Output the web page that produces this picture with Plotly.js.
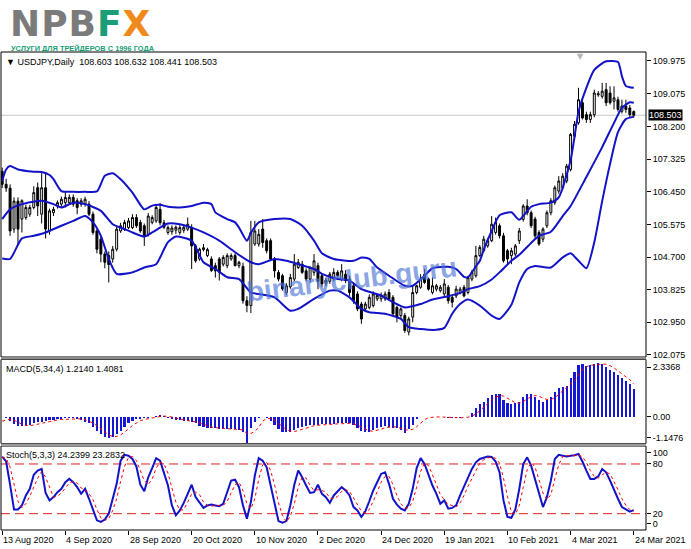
<!DOCTYPE html>
<html><head><meta charset="utf-8">
<script src="https://cdn.plot.ly/plotly-3.0.1.min.js"></script>
<style>html,body{margin:0;padding:0;background:#fff}#chart{width:691px;height:549px}</style>
</head><body><div id="chart"></div>
<script>
// ---------- data ----------
const symbolTitle = "\u25BC USDJPY,Daily\u00a0\u00a0108.603 108.632 108.441 108.503";
const macdTitle = "MACD(5,34,4) 1.2140 1.4081";
const stochTitle = "Stoch(5,3,3) 24.2399 23.2832";
const lastPrice = 108.503;

const openP = [
107.00,106.65,106.55,105.45,106.20,105.72,105.76,105.85,106.03,106.56,
105.85,106.56,105.40,105.89,106.07,106.12,106.16,106.16,106.30,106.21,
106.12,106.12,106.12,105.85,105.40,105.18,104.78,104.74,104.65,104.91,
105.40,105.45,105.49,105.49,105.76,105.63,105.54,105.31,105.63,105.67,
105.98,105.62,105.36,105.38,105.42,105.36,105.42,105.45,105.49,105.00,
104.65,104.90,104.74,104.65,104.47,104.65,104.51,104.47,104.65,104.74,
104.47,104.45,103.53,103.40,105.05,105.05,105.45,105.14,105.14,104.65,
104.29,104.20,103.75,103.90,104.11,104.42,104.51,104.33,104.11,104.29,
104.47,104.20,104.00,104.05,104.11,104.29,104.11,104.24,104.11,103.93,
103.71,103.44,103.31,103.35,103.40,103.58,103.58,103.58,103.75,103.62,
103.35,103.13,103.13,102.69,103.09,103.75,103.89,104.24,104.11,103.75,
103.84,103.80,103.71,103.89,103.62,103.66,103.75,103.89,103.75,104.11,
104.20,104.74,104.87,105.00,105.14,105.36,105.54,105.27,104.87,104.74,
104.78,105.14,105.71,106.07,105.89,105.72,105.36,105.18,105.54,105.89,
106.16,106.47,106.56,106.74,107.05,107.94,108.30,108.84,108.52,108.39,
108.52,109.05,109.01,109.19,109.10,108.88,108.92,108.61,108.75,108.70,
108.603];
const highP = [
107.10,106.80,106.65,106.30,106.30,106.25,106.10,106.10,106.60,106.70,
106.95,106.95,106.00,106.05,106.22,106.32,106.47,106.38,106.38,106.28,
106.28,106.32,106.20,105.92,105.45,105.25,104.85,104.85,105.00,105.55,
105.62,105.70,105.75,105.85,105.85,105.70,105.60,105.88,105.82,106.12,
106.15,105.70,105.55,105.55,105.55,105.56,105.58,105.76,105.58,105.05,
104.95,105.05,104.95,104.72,104.55,104.70,104.75,104.80,104.80,104.80,
104.60,104.55,103.65,105.67,105.67,105.45,105.72,105.20,105.20,104.70,
104.35,104.25,104.00,104.25,104.78,104.65,104.60,104.40,104.45,104.78,
104.55,104.25,104.15,104.30,104.40,104.35,104.51,104.35,104.20,104.00,
103.78,103.50,103.50,103.70,103.78,103.72,103.75,103.78,103.84,103.68,
103.40,103.35,103.20,103.10,103.93,103.96,104.24,104.38,104.15,104.16,
103.98,103.95,104.11,103.95,103.68,103.93,103.90,103.95,104.20,104.35,
105.00,105.02,105.27,105.20,105.80,105.76,105.60,105.35,104.92,104.95,
105.05,105.48,106.12,106.25,105.95,105.78,105.42,105.50,105.95,106.28,
106.62,106.87,106.95,107.20,108.03,108.35,109.24,108.97,108.60,108.60,
109.19,109.15,109.37,109.37,109.28,109.28,109.00,108.92,108.92,108.78,
108.632];
const lowP = [
106.55,106.45,105.27,105.35,105.05,105.36,105.70,105.78,105.98,105.80,
105.60,105.20,105.30,105.80,106.00,106.05,106.03,106.10,106.05,105.85,
106.05,106.05,105.80,105.30,104.80,104.56,104.40,104.02,104.55,104.85,
105.35,105.40,105.45,105.45,105.48,105.35,105.00,105.25,105.58,105.62,
105.55,105.45,105.30,105.30,105.32,105.30,105.35,105.40,104.38,104.55,
104.60,104.85,104.70,104.30,104.15,104.07,104.45,104.40,104.60,104.45,
104.40,103.45,103.22,103.20,105.00,104.98,104.95,104.80,104.60,104.15,
104.05,103.80,103.68,103.85,104.05,104.38,104.25,104.05,104.02,104.20,
103.84,103.90,103.92,103.98,104.05,104.15,104.05,104.00,103.66,103.45,
103.25,102.91,103.25,103.30,103.35,103.52,103.50,103.52,103.52,103.15,
102.95,103.05,102.67,102.60,102.95,103.70,103.85,103.98,103.80,103.70,
103.78,103.75,103.65,103.45,103.35,103.60,103.70,103.62,103.70,104.05,
104.15,104.70,104.82,104.95,105.10,105.30,105.20,104.55,104.51,104.51,
104.72,105.05,105.65,105.82,105.48,105.20,105.00,105.10,105.48,105.82,
106.10,106.40,106.50,106.68,107.00,107.85,108.25,108.39,108.30,108.30,
108.45,109.00,108.95,108.75,108.79,108.66,108.60,108.55,108.57,108.45,
108.441];
const closeP = [
106.65,106.55,105.40,106.20,105.45,106.21,106.03,106.03,106.43,106.07,
106.56,105.45,105.94,105.98,106.16,106.25,106.30,106.30,106.12,106.03,
106.21,106.25,105.85,105.36,104.91,104.78,104.56,104.50,104.91,105.45,
105.54,105.63,105.67,105.76,105.54,105.40,105.27,105.80,105.76,106.03,
105.62,105.50,105.49,105.48,105.50,105.49,105.50,105.58,105.00,104.60,
104.91,104.95,104.90,104.34,104.33,104.29,104.69,104.74,104.74,104.47,
104.56,103.53,103.40,105.36,105.40,105.31,105.09,104.87,104.65,104.33,
104.11,103.85,103.93,104.15,104.51,104.56,104.29,104.11,104.42,104.60,
104.05,103.98,104.08,104.24,104.29,104.20,104.33,104.07,103.75,103.53,
103.31,103.04,103.44,103.62,103.71,103.67,103.67,103.71,103.58,103.18,
103.09,103.31,102.73,103.04,103.75,103.93,104.11,104.02,103.84,103.93,
103.93,103.89,103.98,103.53,103.49,103.84,103.84,103.66,104.15,104.29,
104.74,104.96,105.18,105.14,105.58,105.63,105.27,104.60,104.65,104.87,
105.00,105.40,106.07,105.89,105.54,105.27,105.05,105.45,105.89,106.21,
106.56,106.74,106.87,107.14,107.99,108.26,108.92,108.43,108.39,108.52,
109.10,109.08,109.15,108.84,108.84,108.97,108.66,108.75,108.66,108.52,
108.503];

// Bollinger bands, read at the bars where they were legible
const bbUpIdx = [0,1,2,4,8,10,12,13,15,18,21,24,26,28,30,33,36,38,40,42,45,48,51,53,54,57,59,60,62,63,65,69,73,76,79,81,84,89,91,93,95,98,102,104,107,109,113,115,117,118,120,121,122,124,126,129,131,134,136,139,141,144,146,147,150,153,156,157,158,160];
const bbUpVal = [106.74,107.05,107.14,107.05,106.99,106.98,106.90,106.79,106.47,106.45,106.45,106.46,106.88,106.95,106.79,106.43,105.98,106.08,106.10,106.05,106.03,106.07,106.16,106.12,105.90,105.72,105.63,105.49,105.14,105.35,105.63,105.72,105.72,105.54,105.14,104.80,104.65,104.60,104.69,104.65,104.42,104.20,103.93,103.93,104.20,104.40,104.44,104.38,104.17,104.16,104.45,104.60,104.90,105.40,105.82,105.90,105.70,106.05,106.12,106.16,106.30,107.30,108.60,108.95,109.72,109.95,109.93,109.55,109.29,109.24];
const bbMidIdx = [0,2,5,10,13,15,18,21,25,28,31,33,36,38,40,42,45,48,51,55,59,63,65,69,72,75,79,81,85,88,91,96,99,102,106,109,113,116,118,121,124,126,129,131,134,136,139,142,144,148,152,155,157,159,160];
const bbMidVal = [105.72,105.98,106.12,106.21,106.12,106.03,106.16,106.12,105.94,105.58,105.45,105.36,105.25,105.36,105.49,105.60,105.58,105.49,105.36,105.14,104.83,104.56,104.51,104.65,104.60,104.51,104.38,104.25,104.11,104.07,103.84,103.67,103.49,103.35,103.44,103.56,103.65,103.74,103.84,103.92,104.10,104.29,104.60,104.76,105.08,105.27,105.38,105.80,106.07,106.85,107.65,108.30,108.70,108.85,108.84];
const bbLowIdx = [0,2,5,8,11,15,18,21,23,25,27,29,33,36,39,41,42,44,48,51,54,57,60,63,65,69,73,75,79,83,85,88,91,93,97,101,103,106,110,112,114,116,118,121,124,126,129,131,133,135,139,142,144,146,148,150,152,154,156,158,160];
const bbLowVal = [104.66,104.65,105.20,105.27,105.36,105.54,105.67,105.80,105.63,105.27,104.65,104.25,104.29,104.42,104.51,104.91,105.10,105.25,105.14,104.56,104.38,104.16,104.11,103.75,103.71,103.62,103.26,103.31,103.58,103.80,103.80,103.62,103.31,103.22,103.18,103.04,102.82,102.77,102.75,102.80,103.18,103.44,103.56,103.40,103.13,103.04,103.42,104.02,104.38,104.46,104.42,104.69,104.80,104.60,104.40,105.10,106.20,107.20,108.05,108.40,108.46];

const macdHist = [
-0.02,-0.08,-0.20,-0.34,-0.40,-0.41,-0.40,-0.37,-0.30,-0.25,
-0.22,-0.18,-0.15,-0.15,-0.12,-0.11,-0.08,-0.08,-0.08,-0.11,
-0.15,-0.22,-0.30,-0.44,-0.63,-0.78,-0.88,-0.92,-0.88,-0.78,
-0.63,-0.44,-0.30,-0.20,-0.12,-0.11,-0.08,-0.05,-0.02,0.01,
0.07,0.02,-0.05,-0.11,-0.15,-0.17,-0.18,-0.20,-0.22,-0.30,
-0.40,-0.44,-0.49,-0.49,-0.51,-0.54,-0.54,-0.54,-0.54,-0.54,
-0.59,-0.66,-1.1476,-0.51,-0.22,-0.05,-0.01,-0.08,-0.20,-0.37,
-0.54,-0.66,-0.69,-0.66,-0.59,-0.51,-0.44,-0.40,-0.37,-0.37,
-0.37,-0.34,-0.33,-0.33,-0.31,-0.30,-0.30,-0.30,-0.30,-0.37,
-0.51,-0.63,-0.69,-0.66,-0.59,-0.51,-0.44,-0.40,-0.44,-0.49,
-0.51,-0.59,-0.73,-0.54,-0.37,-0.11,-0.04,-0.02,-0.02,-0.01,
-0.02,-0.02,-0.02,-0.05,-0.08,-0.05,-0.05,-0.04,-0.02,0.14,
0.36,0.53,0.64,0.79,0.93,0.96,0.96,0.72,0.57,0.54,
0.57,0.64,0.86,0.96,0.96,0.86,0.72,0.64,0.72,0.86,
1.05,1.22,1.30,1.34,1.69,1.95,2.22,2.27,2.20,2.22,
2.27,2.3368,2.30,2.17,2.02,1.95,1.80,1.66,1.54,1.40,
1.214];
const macdSignal = [
-0.20,-0.15,-0.12,-0.16,-0.25,-0.34,-0.39,-0.40,-0.37,-0.33,
-0.29,-0.24,-0.20,-0.18,-0.15,-0.13,-0.12,-0.10,-0.09,-0.09,
-0.10,-0.14,-0.20,-0.28,-0.40,-0.54,-0.68,-0.80,-0.87,-0.87,
-0.80,-0.68,-0.54,-0.39,-0.27,-0.18,-0.13,-0.09,-0.07,-0.04,
0.00,0.02,0.01,-0.02,-0.07,-0.12,-0.15,-0.18,-0.19,-0.23,
-0.28,-0.34,-0.41,-0.46,-0.48,-0.51,-0.52,-0.53,-0.54,-0.54,
-0.55,-0.58,-0.74,-0.74,-0.64,-0.48,-0.20,-0.09,-0.09,-0.17,
-0.30,-0.44,-0.57,-0.64,-0.65,-0.61,-0.55,-0.49,-0.43,-0.40,
-0.38,-0.36,-0.35,-0.34,-0.33,-0.32,-0.31,-0.30,-0.30,-0.32,
-0.37,-0.45,-0.55,-0.62,-0.64,-0.61,-0.55,-0.49,-0.45,-0.44,
-0.46,-0.51,-0.58,-0.59,-0.56,-0.44,-0.27,-0.14,-0.05,-0.02,
-0.02,-0.02,-0.02,-0.03,-0.04,-0.05,-0.06,-0.06,-0.03,0.01,
0.11,0.25,0.42,0.58,0.72,0.83,0.91,0.89,0.80,0.70,
0.60,0.58,0.65,0.76,0.86,0.91,0.88,0.80,0.74,0.74,
0.82,0.96,1.11,1.23,1.39,1.57,1.80,2.03,2.16,2.23,
2.24,2.27,2.28,2.27,2.21,2.11,1.98,1.86,1.74,1.60,
1.4081];

const stochK = [
89,83,55,25,25,30,42,50,67,72,
74,45,36,40,46,50,58,62,58,52,
44,50,38,24,12,10,13,20,38,56,
84,91,90,86,77,55,47,64,75,87,
84,70,54,30,18,24,33,44,55,40,
34,27,30,31,30,29,32,45,60,61,
52,30,14,34,66,87,84,76,55,33,
11,9,11,30,55,72,64,54,45,46,
55,44,40,33,42,47,52,48,42,28,
24,16,23,35,48,58,68,70,56,38,
31,26,24,32,50,75,87,80,67,54,
44,32,36,26,27,30,42,53,63,74,
82,86,87.5,89,88.5,83,70,36,16,15,
25,50,80,88,78,62,44,28,40,60,
86,91,90,89,90,90.5,92,83,72,62,
62,65,74,70,60,48,38,28,25,22.5,
24.2399];
const stochD = [
88,87,76,54,35,27,32,41,53,63,
71,64,52,40,41,45,51,57,59,57,
51,49,44,37,25,15,12,14,24,38,
59,77,88,89,84,73,60,55,62,75,
82,80,69,51,34,24,25,34,44,46,
43,34,30,29,30,30,30,35,46,55,
58,48,32,26,38,62,79,82,72,55,
33,18,10,17,32,52,64,63,54,48,
49,48,46,39,38,41,47,49,47,39,
31,23,21,25,35,47,58,65,65,55,
42,32,27,27,35,52,71,81,78,67,
55,43,37,31,30,28,33,42,53,63,
73,81,85,87.5,88,87,81,63,41,22,
19,30,52,73,82,76,61,45,37,43,
62,79,89,90,90,90,91,88.5,82,72,
65,63,67,70,68,59,49,38,30,25,
23.2832];
const stochLevels = [20, 80];

const dateTickIdx = [0,16,32,48,64,80,96,112,128,144,160];
const dateTickText = ['13 Aug 2020','4 Sep 2020','28 Sep 2020','20 Oct 2020','10 Nov 2020','2 Dec 2020','24 Dec 2020','19 Jan 2021','10 Feb 2021','4 Mar 2021','24 Mar 2021'];
const priceTicks = [102.075,102.950,103.825,104.700,105.575,106.450,107.325,108.200,109.075,109.975];
const macdTickText = ['-1.1476','0.00','2.3368'];
const stochTickText = ['0','20','80','100'];

// ---------- layout helpers (pixels -> paper) ----------
const W = 691, H = 549, ML = 1, MR = 45, MT = 52, MB = 19;
const PW = W - ML - MR, PH = H - MT - MB;
const px = x => (x - ML) / PW;
const py = y => (H - MB - y) / PH;

const barIdx = openP.map((_, i) => i);
const BLUE = '#1212c8';
const FONT = 'Liberation Sans, Arial, sans-serif';

const traces = [
  {type:'candlestick', x:barIdx, open:openP, high:highP, low:lowP, close:closeP,
   xaxis:'x', yaxis:'y', whiskerwidth:0,
   increasing:{line:{color:'#000', width:1}, fillcolor:'#ffffff'},
   decreasing:{line:{color:'#000', width:1}, fillcolor:'#000000'},
   hoverinfo:'skip'},
  {type:'scatter', mode:'lines', x:bbUpIdx, y:bbUpVal, yaxis:'y', line:{color:BLUE, width:2, shape:'spline', smoothing:0.6}, hoverinfo:'skip'},
  {type:'scatter', mode:'lines', x:bbMidIdx, y:bbMidVal, yaxis:'y', line:{color:BLUE, width:2, shape:'spline', smoothing:0.6}, hoverinfo:'skip'},
  {type:'scatter', mode:'lines', x:bbLowIdx, y:bbLowVal, yaxis:'y', line:{color:BLUE, width:2, shape:'spline', smoothing:0.6}, hoverinfo:'skip'},
  {type:'bar', x:barIdx, y:macdHist, yaxis:'y2', width:0.55, marker:{color:'#1616d4', line:{width:0}}, hoverinfo:'skip'},
  {type:'scatter', mode:'lines', x:barIdx, y:macdSignal, yaxis:'y2', line:{color:'#ff0000', width:1, dash:'dot'}, hoverinfo:'skip'},
  {type:'scatter', mode:'lines', x:barIdx, y:stochK, yaxis:'y3', line:{color:BLUE, width:2}, hoverinfo:'skip'},
  {type:'scatter', mode:'lines', x:barIdx, y:stochD, yaxis:'y3', line:{color:'#ff0000', width:1, dash:'dot'}, hoverinfo:'skip'}
];

const mainDom = [py(357), 1];
const macdDom = [py(443.5), py(359.5)];
const stochDom = [0, py(446)];

const axisCommon = {side:'right', showgrid:false, zeroline:false, showline:false,
  ticks:'outside', ticklen:4, tickcolor:'#000', tickwidth:1,
  tickfont:{family:FONT, size:9, color:'#000'}, fixedrange:true};

const shapes = [
  {type:'line', xref:'paper', yref:'y', x0:0, x1:1, y0:lastPrice, y1:lastPrice, line:{color:'#c8c8c8', width:1}, layer:'below'},
  ...stochLevels.map(v => ({type:'line', xref:'paper', yref:'y3', x0:0, x1:1, y0:v, y1:v, line:{color:'#e02020', width:1, dash:'9px,5px'}, layer:'below'})),
  {type:'rect', xref:'paper', yref:'paper', x0:0, x1:1, y0:mainDom[0], y1:1, line:{color:'#000', width:1}},
  {type:'rect', xref:'paper', yref:'paper', x0:0, x1:1, y0:macdDom[0], y1:macdDom[1], line:{color:'#000', width:1}},
  {type:'rect', xref:'paper', yref:'paper', x0:0, x1:1, y0:stochDom[0], y1:stochDom[1], line:{color:'#000', width:1}},
  {type:'rect', xref:'paper', yref:'paper', x0:0, x1:1, y0:py(359.5), y1:py(357), fillcolor:'#8c8c8c', line:{width:0}},
  {type:'rect', xref:'paper', yref:'paper', x0:0, x1:1, y0:py(446), y1:py(443.5), fillcolor:'#9a9a9a', line:{width:0}}
];

const annotations = [
  {xref:'paper', yref:'paper', x:px(8), y:py(1), xanchor:'left', yanchor:'top', showarrow:false,
   text:'<b><span style="letter-spacing:1px">NPB<span style="color:#1b9e77">F</span><span style="color:#f18a1c">X</span></span></b>',
   font:{family:'DejaVu Sans, Liberation Sans, sans-serif', size:36, color:'#7b7b7b'}},
  {xref:'paper', yref:'paper', x:px(9), y:py(41.5), xanchor:'left', yanchor:'top', showarrow:false,
   text:'<b>УСЛУГИ ДЛЯ ТРЕЙДЕРОВ С 1996 ГОДА</b>',
   font:{family:'Liberation Sans, Arial, sans-serif', size:7.4, color:'#1b9e77'}},
  {xref:'paper', yref:'paper', x:px(4), y:py(62), xanchor:'left', yanchor:'middle', showarrow:false,
   text:symbolTitle, font:{family:FONT, size:9, color:'#000'}},
  {xref:'paper', yref:'paper', x:px(4), y:py(369), xanchor:'left', yanchor:'middle', showarrow:false,
   text:macdTitle, font:{family:FONT, size:9, color:'#000'}},
  {xref:'paper', yref:'paper', x:px(4), y:py(455), xanchor:'left', yanchor:'middle', showarrow:false,
   text:stochTitle, font:{family:FONT, size:9, color:'#000'}},
  {xref:'paper', yref:'y', x:px(648), y:lastPrice, xanchor:'left', yanchor:'middle', showarrow:false,
   text:lastPrice.toFixed(3), bgcolor:'#000', borderpad:0, font:{family:FONT, size:9, color:'#fff'}},
  {xref:'paper', yref:'paper', x:px(580), y:py(56), xanchor:'center', yanchor:'middle', showarrow:false,
   text:'\u25BC', font:{family:'DejaVu Sans, sans-serif', size:8, color:'#b4b4b4'}},
  {xref:'paper', yref:'paper', x:px(352), y:py(279), xanchor:'center', yanchor:'middle', showarrow:false,
   text:'<b>binaryclub.guru</b>', textangle:-7,
   font:{family:FONT, size:28, color:'rgba(80,118,214,0.68)'}},
  ...dateTickIdx.map((v, k) => ({xref:'x', yref:'paper', x:v, y:py(540), xanchor:'left', yanchor:'middle', xshift:-1,
     showarrow:false, text:dateTickText[k], font:{family:FONT, size:9, color:'#000'}}))
];

const layout = {
  width:W, height:H, margin:{l:ML, r:MR, t:MT, b:MB, pad:0},
  paper_bgcolor:'#fff', plot_bgcolor:'#fff', showlegend:false, bargap:0,
  font:{family:FONT, size:9, color:'#000'},
  xaxis:{domain:[0,1], anchor:'y3', range:[-0.3, 163.1], showgrid:false, zeroline:false, showline:false,
    tickvals:dateTickIdx, ticktext:dateTickIdx.map(() => ''), ticks:'outside', ticklen:4, tickcolor:'#000',
    rangeslider:{visible:false}, fixedrange:true},
  yaxis:Object.assign({}, axisCommon, {domain:mainDom, anchor:'x', range:[102.02, 110.20], tickvals:priceTicks, tickformat:'.3f'}),
  yaxis2:Object.assign({}, axisCommon, {domain:macdDom, anchor:'x', range:[-1.174, 2.478], tickvals:[-0.92, 0, 2.14], ticktext:macdTickText}),
  yaxis3:Object.assign({}, axisCommon, {domain:stochDom, anchor:'x', range:[0.3, 101.7], tickvals:[8, 20, 80, 93.4], ticktext:stochTickText}),
  shapes:shapes, annotations:annotations
};

Plotly.newPlot('chart', traces, layout, {displayModeBar:false, staticPlot:true});
</script></body></html>
